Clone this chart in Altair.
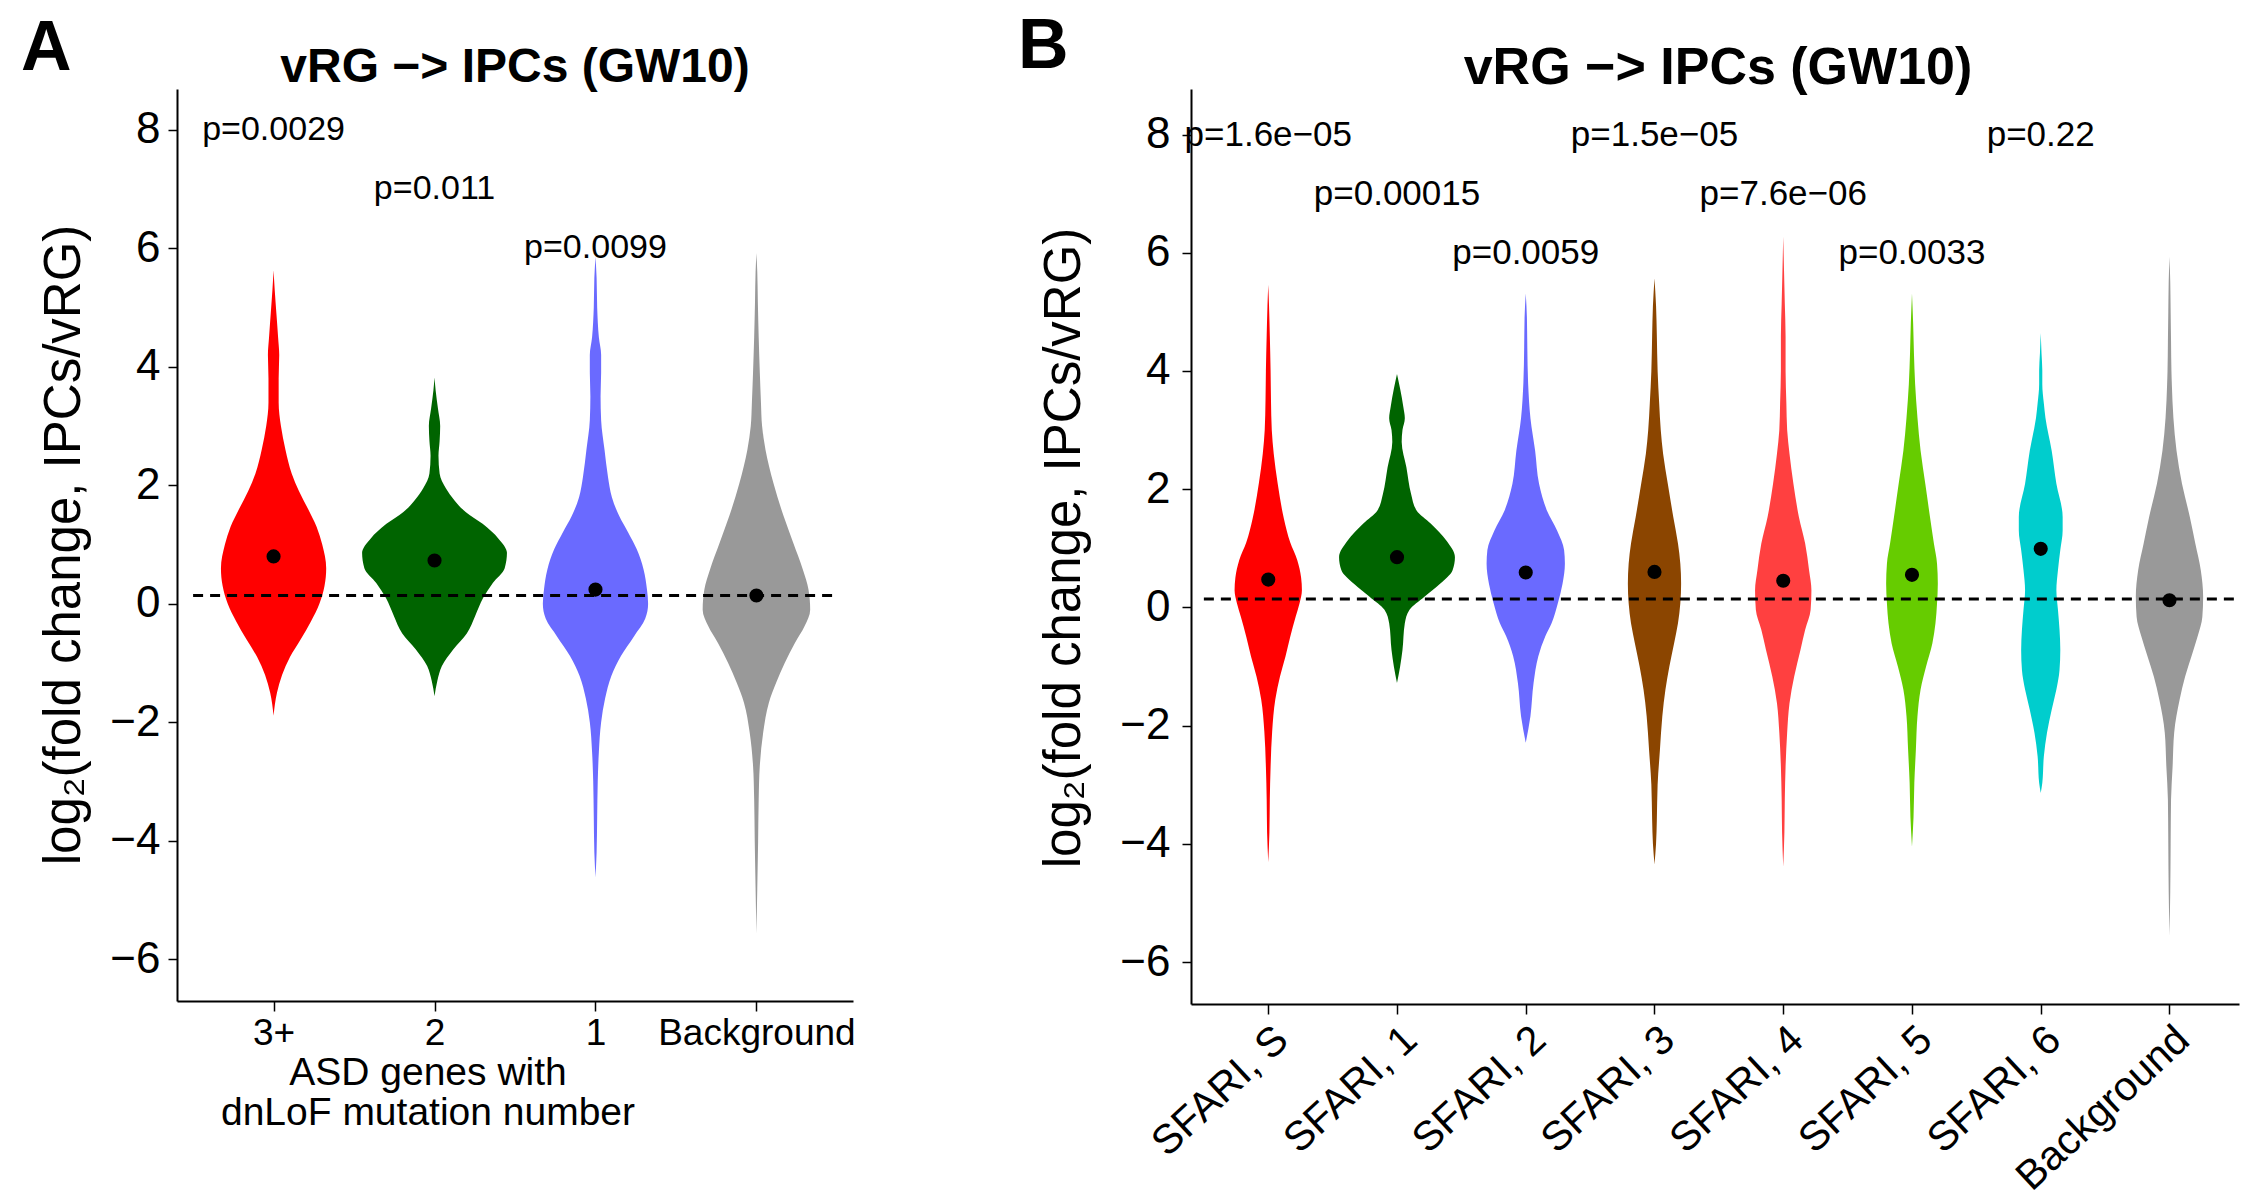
import altair as alt
import pandas as pd

FONT = "Liberation Sans"

# ---------------- Panel A ----------------
A_CATS = ["3+", "2", "1", "Background"]
A_COLORS = ["#FF0000", "#006400", "#6A6AFF", "#999999"]
A_MEANS = [0.80, 0.73, 0.24, 0.14]
A_PLABELS = ["p=0.0029", "p=0.011", "p=0.0099"]
A_PLABEL_Y = [8, 7, 6]

A_Y_3P = [5.63, 5.3, 4.9, 4.5, 4.2, 3.8, 3.4, 3.0, 2.6, 2.2, 1.9, 1.6, 1.3, 1.0, 0.6, 0.3, 0.0, -0.3, -0.6, -0.9, -1.2, -1.5, -1.89]
A_D_3P = [0, 2, 5, 8, 10, 9, 9, 13, 21, 32, 45, 61, 76, 86, 93, 90, 81, 66, 48, 29, 15, 6, 0]
A_Y_2 = [3.82, 3.6, 3.3, 3.0, 2.75, 2.5, 2.2, 1.95, 1.75, 1.55, 1.35, 1.1, 0.86, 0.6, 0.35, 0.1, -0.2, -0.5, -0.77, -1.05, -1.3, -1.56]
A_D_2 = [0, 2, 6, 10, 9, 7, 9, 20, 35, 55, 85, 113, 128, 124, 103, 86, 72, 57, 33, 13, 5, 0]
A_Y_1 = [5.86, 5.5, 5.0, 4.5, 4.2, 3.9, 3.5, 3.1, 2.6, 2.15, 1.8, 1.48, 1.2, 0.92, 0.58, 0.24, 0.0, -0.25, -0.55, -0.88, -1.22, -1.6, -2.0, -2.5, -3.0, -3.6, -4.2, -4.62]
A_D_1 = [0, 2, 3, 6, 10, 10, 9, 10, 16, 22, 29, 42, 58, 73, 85, 91, 93, 88, 68, 45, 28, 17, 10, 6, 4, 3, 2, 0]
A_Y_BG = [5.92, 5.6, 5.1, 4.5, 3.9, 3.4, 3.0, 2.6, 2.04, 1.48, 1.03, 0.58, 0.24, -0.1, -0.38, -0.66, -1.0, -1.33, -1.67, -2.17, -2.73, -3.3, -4.0, -4.8, -5.57]
A_D_BG = [0, 1.5, 2.5, 4, 6, 8, 10, 16, 30, 48, 65, 82, 92, 95, 85, 68, 50, 35, 22, 12, 6, 4, 3, 1.5, 0]

# ---------------- Panel B ----------------
B_CATS = ["SFARI, S", "SFARI, 1", "SFARI, 2", "SFARI, 3", "SFARI, 4", "SFARI, 5", "SFARI, 6", "Background"]
B_COLORS = ["#FF0000", "#006400", "#6A6AFF", "#8B4500", "#FF4040", "#66CC00", "#00CDCD", "#999999"]
B_MEANS = [0.47, 0.85, 0.59, 0.60, 0.45, 0.55, 0.99, 0.12]
B_PLABELS = ["p=1.6e\u221205", "p=0.00015", "p=0.0059", "p=1.5e\u221205", "p=7.6e\u221206", "p=0.0033", "p=0.22"]
B_PLABEL_Y = [8, 7, 6, 8, 7, 6, 8]

B_Y_S = [5.46, 5.1, 4.6, 4.0, 3.5, 3.0, 2.6, 2.1, 1.5, 1.1, 0.8, 0.5, 0.29, 0.07, -0.16, -0.5, -0.83, -1.17, -1.56, -2.1, -2.7, -3.25, -3.8, -4.31]
B_D_S = [0, 1, 2, 3, 3.5, 4.5, 7, 12, 20, 28, 37, 42, 43, 40, 35, 28, 22, 15, 9, 5, 3, 2, 1.5, 0]
B_Y_1 = [3.95, 3.7, 3.4, 3.2, 3.0, 2.8, 2.37, 1.92, 1.64, 1.42, 1.13, 0.85, 0.63, 0.4, 0.18, -0.04, -0.27, -0.72, -1.0, -1.28]
B_D_1 = [0, 4, 8, 10, 7, 6, 12, 18, 25, 43, 63, 74, 71, 55, 35, 16, 10, 7, 4, 0]
B_Y_2 = [5.31, 4.9, 4.4, 3.8, 3.2, 2.65, 2.09, 1.64, 1.3, 0.97, 0.74, 0.4, 0.07, -0.27, -0.49, -0.83, -1.28, -1.84, -2.29]
B_D_2 = [0, 1.5, 2, 3, 6, 12, 17, 27, 40, 49, 50, 47, 41, 33, 25, 16, 10, 6, 0]
B_Y_3 = [5.57, 5.1, 4.6, 4.0, 3.45, 3.0, 2.6, 2.09, 1.53, 1.08, 0.74, 0.4, 0.07, -0.27, -0.61, -1.0, -1.39, -1.84, -2.4, -3.0, -3.6, -4.0, -4.35]
B_D_3 = [0, 2, 3, 4, 6, 8, 11, 17, 24, 30, 33, 34, 33, 30, 25, 19, 14, 10, 7, 4, 3, 2, 0]
B_Y_4 = [6.27, 5.7, 5.14, 4.58, 4.0, 3.45, 3.0, 2.6, 2.09, 1.53, 1.08, 0.63, 0.29, -0.04, -0.38, -0.72, -1.17, -1.62, -2.12, -2.69, -3.25, -3.8, -4.39]
B_D_4 = [0, 1, 2, 3, 3, 4, 5, 8, 13, 20, 28, 33, 36, 35, 28, 22, 14, 8, 5, 3, 2, 1.5, 0]
B_Y_5 = [5.31, 4.8, 4.3, 3.78, 3.21, 2.65, 2.09, 1.53, 1.08, 0.74, 0.4, 0.07, -0.27, -0.61, -1.0, -1.39, -1.84, -2.4, -2.97, -3.54, -4.05]
B_D_5 = [0, 1.5, 2.5, 4, 7, 11, 17, 23, 28, 32, 33, 32, 30, 26, 18, 11, 7, 5, 3, 2, 0]
B_Y_6 = [4.64, 4.3, 4.01, 3.78, 3.45, 3.21, 2.65, 2.09, 1.53, 1.3, 0.97, 0.63, 0.29, -0.04, -0.38, -0.72, -1.06, -1.39, -1.73, -2.12, -2.52, -2.97, -3.14]
B_D_6 = [0, 1, 2, 2, 4, 6, 14, 20, 28, 28, 25, 22, 20, 22, 24, 25, 24, 20, 14, 8, 4, 2, 0]
B_Y_BG = [5.93, 5.5, 5.0, 4.5, 4.0, 3.78, 3.21, 2.65, 2.09, 1.53, 1.08, 0.63, 0.18, -0.16, -0.49, -0.83, -1.17, -1.56, -2.12, -2.69, -3.25, -4.0, -4.8, -5.56]
B_D_BG = [0, 1, 1.5, 2, 2.5, 3, 5, 9, 16, 26, 33, 40, 43, 42, 36, 28, 20, 13, 6, 4, 2, 1.5, 1, 0]

REF_LINE = 0.14
TITLE = "vRG \u2212> IPCs (GW10)"
Y_TITLE = "log\u2082(fold change, IPCs/vRG)"
A_X_TITLE = "ASD genes with\ndnLoF mutation number"

A_PROFILES = [(A_Y_3P, A_D_3P), (A_Y_2, A_D_2), (A_Y_1, A_D_1), (A_Y_BG, A_D_BG)]
B_PROFILES = [(B_Y_S, B_D_S), (B_Y_1, B_D_1), (B_Y_2, B_D_2), (B_Y_3, B_D_3),
              (B_Y_4, B_D_4), (B_Y_5, B_D_5), (B_Y_6, B_D_6), (B_Y_BG, B_D_BG)]


def violin_frame(cats, profiles):
    peak = max(max(d) for _, d in profiles)
    rows = []
    for i, (cat, (ys, ds)) in enumerate(zip(cats, profiles)):
        pos = i + 1
        for y, d in zip(ys, ds):
            hw = 0.45 * d / peak
            rows.append({"cat": cat, "pos": pos, "y": y, "lo": pos - hw, "hi": pos + hw})
    return pd.DataFrame(rows)


def text_layer(txt, x, y, size, **kw):
    return alt.Chart(pd.DataFrame({"t": [txt]})).mark_text(
        font=FONT, fontSize=size, color="black", **kw
    ).encode(x=alt.value(x), y=alt.value(y), text="t:N")


def panel(cats, colors, profiles, means, plabels, plabel_y, xdom, ydom, width, height,
          x_axis, ylab_pad, p_size, title_size, letter, letter_x, letter_y, title_x, title_y,
          ytitle_x, ytitle_y):
    vdf = violin_frame(cats, profiles)
    xs = alt.Scale(domain=xdom, nice=False, zero=False)
    ys = alt.Scale(domain=ydom, nice=False, zero=False)
    y_axis = alt.Axis(values=[-6, -4, -2, 0, 2, 4, 6, 8], format="d", title=None, grid=False,
                      domainColor="black", domainWidth=2, tickColor="black", tickWidth=1.5,
                      tickSize=9, labelFont=FONT, labelFontSize=44, labelColor="black",
                      labelPadding=ylab_pad)
    cscale = alt.Scale(domain=cats, range=colors)

    violins = alt.Chart(vdf).mark_area(orient="horizontal", interpolate="monotone").encode(
        y=alt.Y("y:Q", scale=ys, axis=y_axis),
        x=alt.X("lo:Q", scale=xs, axis=x_axis, stack=None),
        x2="hi:Q",
        color=alt.Color("cat:N", scale=cscale, legend=None),
    )
    n = len(cats)
    ref = alt.Chart(pd.DataFrame({"x": [0.5], "x2": [n + 0.5], "y": [REF_LINE]})).mark_rule(
        color="black", strokeWidth=3, strokeDash=[10, 7]
    ).encode(x=alt.X("x:Q", scale=xs), x2="x2:Q", y=alt.Y("y:Q", scale=ys))
    dots = alt.Chart(pd.DataFrame({"pos": list(range(1, n + 1)), "m": means})).mark_circle(
        color="black", size=200, opacity=1
    ).encode(x=alt.X("pos:Q", scale=xs), y=alt.Y("m:Q", scale=ys))
    pv = alt.Chart(pd.DataFrame({"pos": list(range(1, len(plabels) + 1)), "py": plabel_y, "t": plabels})).mark_text(
        font=FONT, fontSize=p_size, color="black", align="center", baseline="middle"
    ).encode(x=alt.X("pos:Q", scale=xs), y=alt.Y("py:Q", scale=ys), text="t:N")

    letter_l = text_layer(letter, letter_x, letter_y, 70, fontWeight="bold", align="left", baseline="alphabetic")
    title_l = text_layer(TITLE, title_x, title_y, title_size, fontWeight="bold", align="center", baseline="alphabetic")
    ytitle_l = text_layer(Y_TITLE, ytitle_x, ytitle_y, 51, angle=270, align="center", baseline="middle")

    return alt.layer(violins, ref, dots, pv, letter_l, title_l, ytitle_l).properties(width=width, height=height)


A_X_AXIS = alt.Axis(values=[1, 2, 3, 4], labelExpr="['3+','2','1','Background'][datum.value - 1]",
                    title=None, grid=False, domainColor="black", domainWidth=2, tickColor="black",
                    tickWidth=1.5, tickSize=10, labelFont=FONT, labelFontSize=37, labelColor="black",
                    labelPadding=4, labelAngle=0, labelAlign="center", labelBaseline="top",
                    labelFlush=False, labelOverlap=False, labelLimit=500)
B_X_AXIS = alt.Axis(values=[1, 2, 3, 4, 5, 6, 7, 8],
                    labelExpr="['SFARI, S','SFARI, 1','SFARI, 2','SFARI, 3','SFARI, 4','SFARI, 5','SFARI, 6','Background'][datum.value - 1]",
                    title=None, grid=False, domainColor="black", domainWidth=2, tickColor="black",
                    tickWidth=1.5, tickSize=10, labelFont=FONT, labelFontSize=41, labelColor="black",
                    labelPadding=5, labelAngle=317, labelAlign="right", labelBaseline="top",
                    labelFlush=False, labelOverlap=False, labelLimit=500)

chartA = panel(A_CATS, A_COLORS, A_PROFILES, A_MEANS, A_PLABELS, A_PLABEL_Y,
               [0.4, 4.6], [-6.705, 8.69], 676, 912, A_X_AXIS, 8, 34, 48,
               "A", -156, -19, 338, -7, -112, 456)
chartA = alt.layer(chartA, text_layer(A_X_TITLE, 251, 996, 39, align="center", baseline="alphabetic",
                                      lineBreak="\n", lineHeight=40))

chartB = panel(B_CATS, B_COLORS, B_PROFILES, B_MEANS, B_PLABELS, B_PLABEL_Y,
               [0.4, 8.54], [-6.71, 8.77], 1048, 915, B_X_AXIS, 12, 35, 52,
               "B", -173, -21, 527, -5, -126, 459)

chart = alt.hconcat(chartA, chartB, spacing=338, bounds="flush").resolve_scale(
    color="independent"
).properties(
    padding={"left": 20, "top": 11, "right": 0, "bottom": 0},
    background="white",
).configure_view(stroke="transparent")

chart.save("out.html", embed_options={"renderer": "svg", "actions": False})
